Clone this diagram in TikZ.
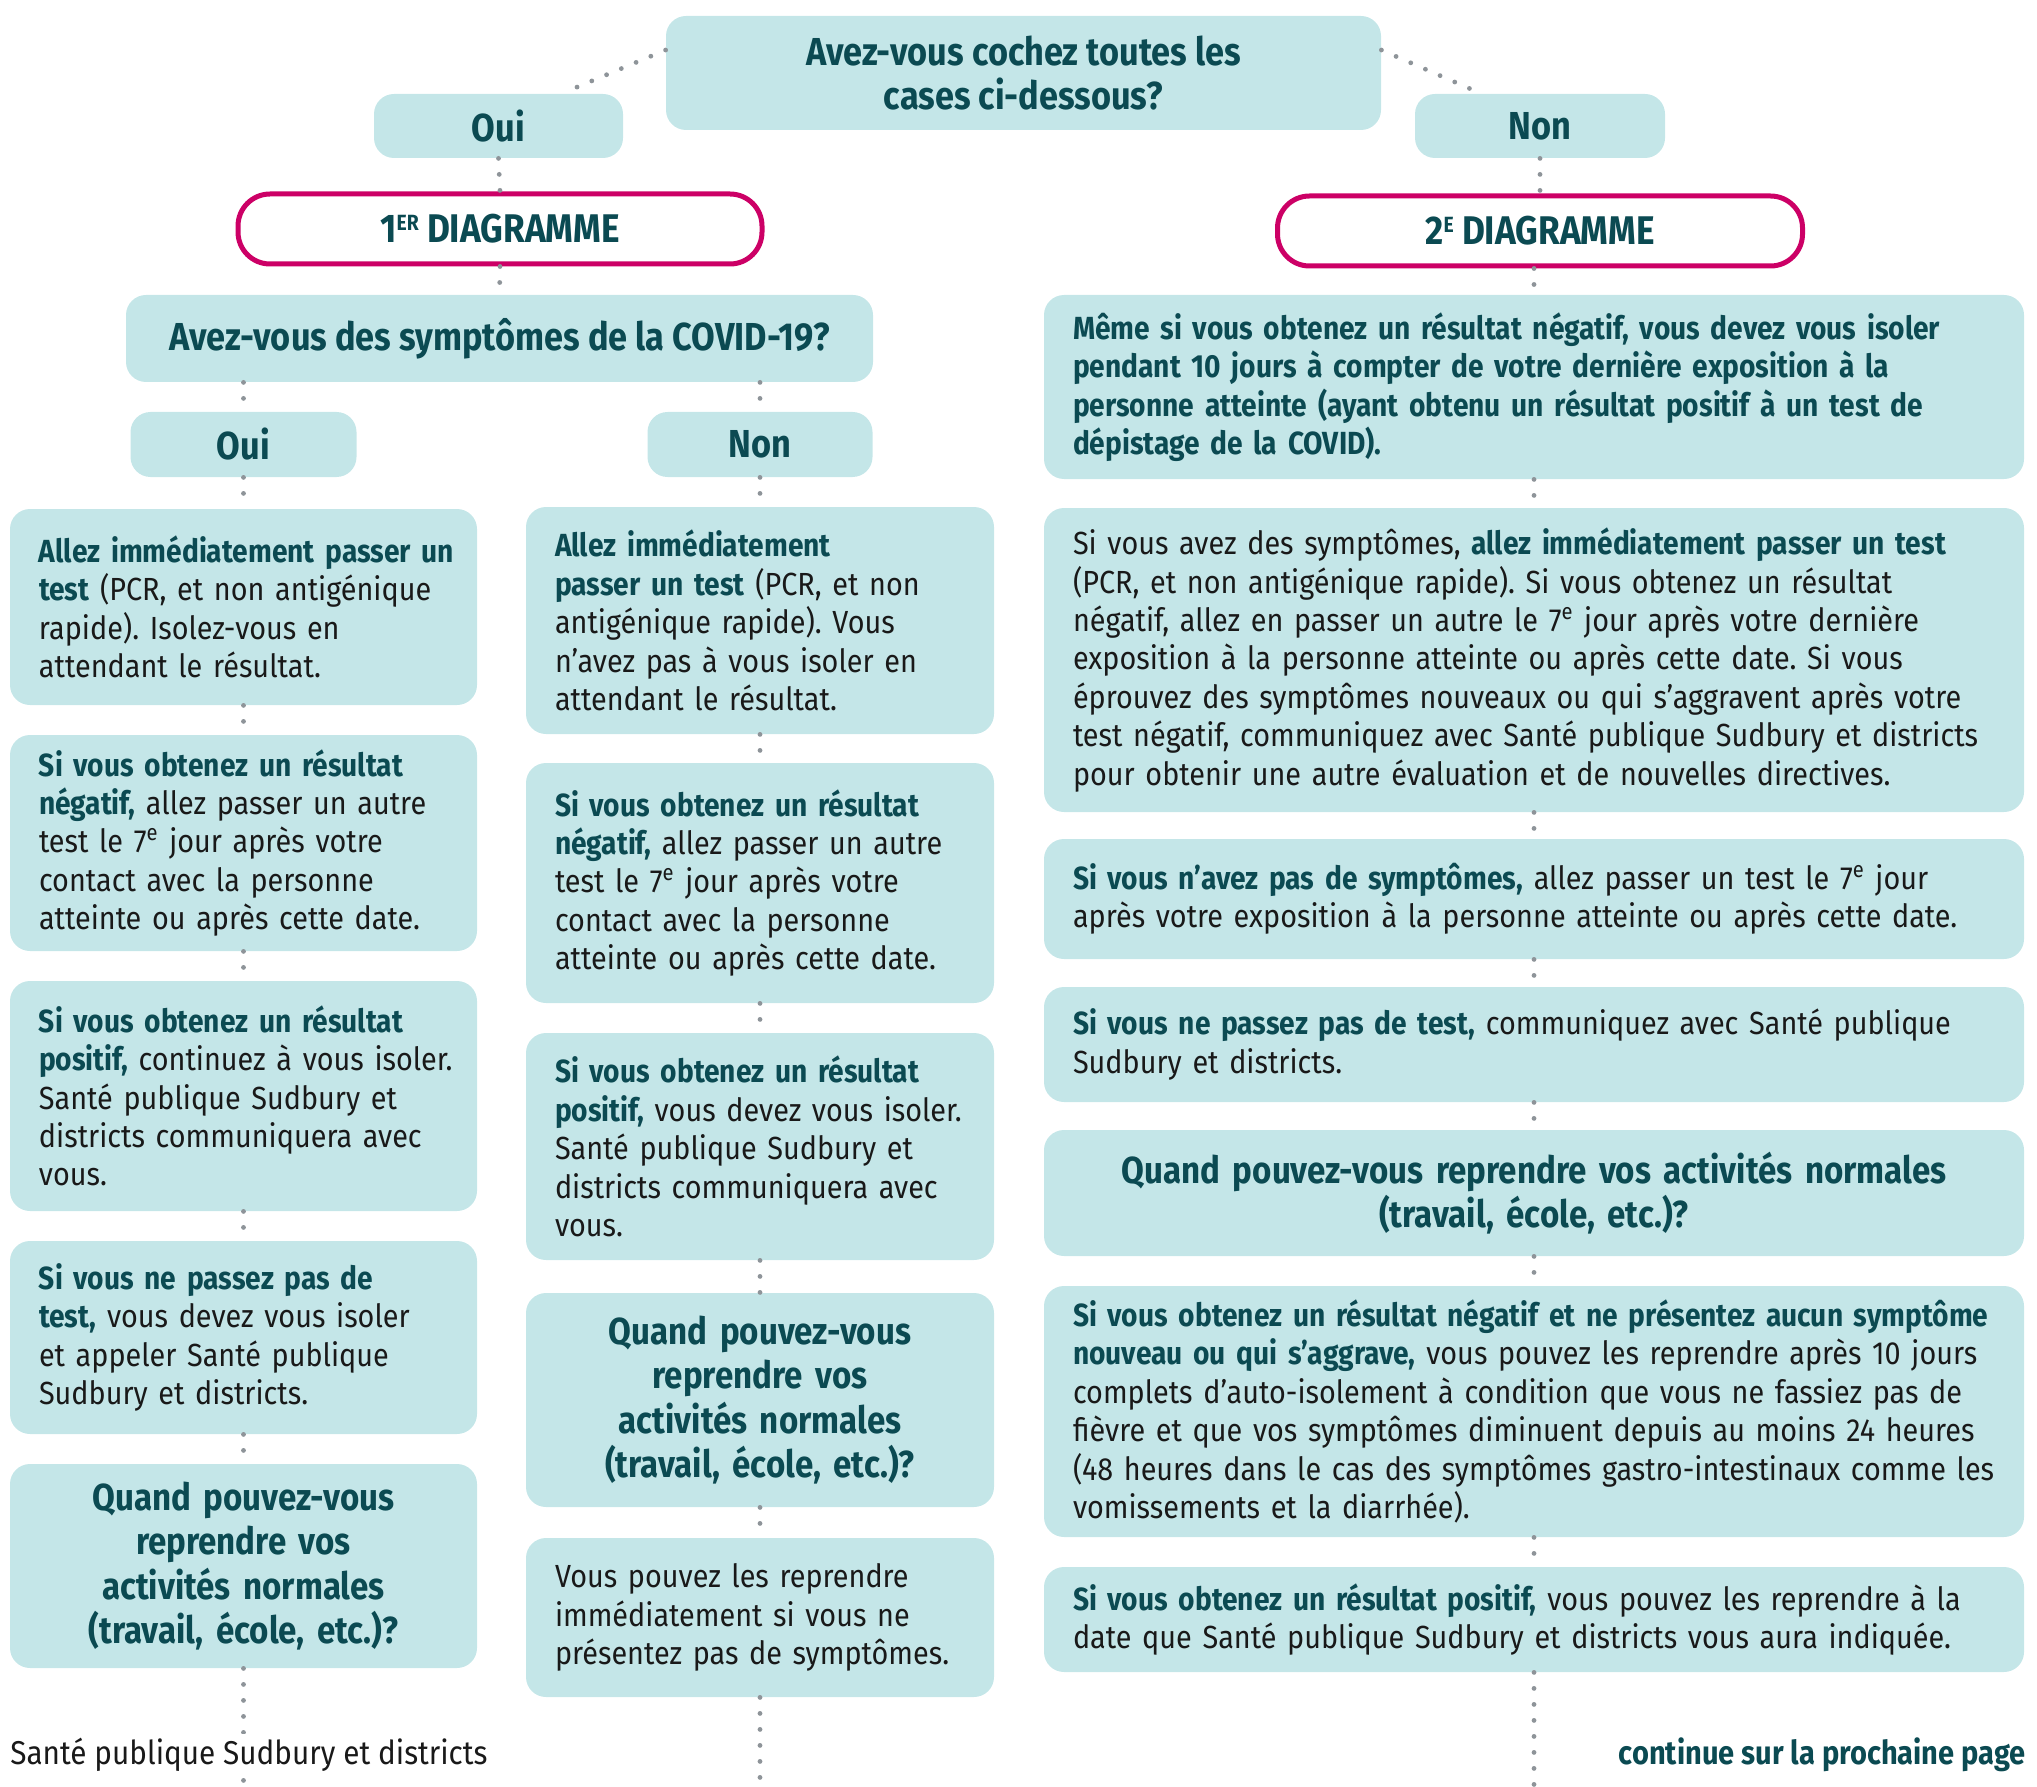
\documentclass[tikz,border=0pt]{standalone}
\usepackage{fontspec}
\setmainfont[FakeStretch=0.9, BoldFeatures={FakeStretch=0.88}]{Fira Sans}
\usetikzlibrary{calc}
\definecolor{boxfill}{HTML}{C4E6E8}
\definecolor{darkteal}{HTML}{0B4A52}
\definecolor{magent}{HTML}{CC0066}
\definecolor{dotgray}{HTML}{8E9499}
\newcommand\hl[1]{{\bfseries\color{darkteal}#1}}
\newcommand\supx[1]{\textsuperscript{#1}}
\newcommand\ov{\rightskip=-30pt plus 1fil\relax}
\newcommand\dsup[1]{\raisebox{6pt}{\fontsize{11}{11}\selectfont #1}}
\frenchspacing
\begin{document}
\begin{tikzpicture}[x=0.5pt,y=-0.5pt,
  box/.style={fill=boxfill, rounded corners=10pt, inner xsep=14.5pt, inner ysep=0pt, align=left, text=black!90, font=\fontsize{16}{19.2}\selectfont},
  lbox/.style={box, text width=204.5pt},
  mbox/.style={box, text width=205pt},
  rbox/.style={box, text width=461pt},
  qfont/.style={align=center, font=\bfseries\fontsize{18.8}{22.3}\selectfont, text=darkteal},
  small/.style={fill=boxfill, rounded corners=10pt, inner sep=0pt, align=center, font=\bfseries\fontsize{19.5}{22}\selectfont, text=darkteal},
  pill/.style={draw=magent, line width=2.5pt, fill=white, rounded corners=16pt, inner sep=0pt, font=\bfseries\fontsize{20}{22}\selectfont, text=darkteal},
  conn/.style={draw=dotgray, line width=2.4pt, line cap=round, dash pattern=on 0pt off 8pt}]
\useasboundingbox (0,0) rectangle (2037,1786);

% top
\node[small, minimum width=357.5pt, minimum height=57pt] (top) at (1023.5,73) {Avez-vous cochez toutes les\\cases ci-dessous?};
\node[small, minimum width=124.5pt, minimum height=32pt] (oui0) at (498.5,126) {Oui};
\node[small, minimum width=125pt, minimum height=32pt] (non0) at (1540,126) {Non};
\node[pill, minimum width=262pt, minimum height=35pt] (d1) at (500,229) {1\dsup{ER} DIAGRAMME};
\node[pill, minimum width=262.5pt, minimum height=35pt] (d2) at (1540,231) {2\dsup{E} DIAGRAMME};

% first diagram
\node[small, minimum width=373.5pt, minimum height=43.5pt] (sym) at (499.5,338.5) {Avez-vous des symptômes de la COVID-19?};
\node[small, minimum width=113pt, minimum height=32.5pt] (oui1) at (243.5,444.5) {Oui};
\node[small, minimum width=112.5pt, minimum height=32.5pt] (non1) at (760,444.5) {Non};

\node[lbox, minimum height=98pt] (l1) at (243.5,607) {\ov\hl{Allez immédiatement passer un}\\\hl{test} (PCR, et non antigénique\\rapide). Isolez-vous en\\attendant le résultat.};
\node[lbox, minimum height=108pt] (l2) at (243.5,843) {\ov\hl{Si vous obtenez un résultat}\\\hl{négatif,} allez passer un autre\\test le 7\supx{e} jour après votre\\contact avec la personne\\atteinte ou après cette date.};
\node[lbox, minimum height=115pt] (l3) at (243.5,1096) {\ov\hl{Si vous obtenez un résultat}\\\hl{positif,} continuez à vous isoler.\\Santé publique Sudbury et\\districts communiquera avec\\vous.};
\node[lbox, minimum height=96.5pt] (l4) at (243.5,1337.5) {\ov\hl{Si vous ne passez pas de}\\\hl{test,} vous devez vous isoler\\et appeler Santé publique\\Sudbury et districts.};
\node[lbox, qfont, minimum height=102pt] (l5) at (243.5,1566) {Quand pouvez-vous\\reprendre vos\\activités normales\\(travail, école, etc.)?};

\node[mbox, minimum height=113.5pt] (m1) at (760,620.5) {\ov\hl{Allez immédiatement}\\\hl{passer un test} (PCR, et non\\antigénique rapide). Vous\\n’avez pas à vous isoler en\\attendant le résultat.};
\node[mbox, minimum height=120pt] (m2) at (760,883) {\ov\hl{Si vous obtenez un résultat}\\\hl{négatif,} allez passer un autre\\test le 7\supx{e} jour après votre\\contact avec la personne\\atteinte ou après cette date.};
\node[mbox, minimum height=113.5pt] (m3) at (760,1146.5) {\ov\hl{Si vous obtenez un résultat}\\\hl{positif,} vous devez vous isoler.\\Santé publique Sudbury et\\districts communiquera avec\\vous.};
\node[mbox, qfont, minimum height=107pt] (m4) at (760,1400) {Quand pouvez-vous\\reprendre vos\\activités normales\\(travail, école, etc.)?};
\node[mbox, minimum height=79.5pt] (m5) at (760,1617.5) {\ov Vous pouvez les reprendre\\immédiatement si vous ne\\présentez pas de symptômes.};

% second diagram
\node[rbox, minimum height=92pt] (r1) at (1534,387) {\ov\hl{Même si vous obtenez un résultat négatif, vous devez vous isoler}\\\hl{pendant 10 jours à compter de votre dernière exposition à la}\\\hl{personne atteinte (ayant obtenu un résultat positif à un test de}\\\hl{dépistage de la COVID).}};
\node[rbox, minimum height=152pt] (r2) at (1534,660) {\ov Si vous avez des symptômes, \hl{allez immédiatement passer un test}\\(PCR, et non antigénique rapide). Si vous obtenez un résultat\\négatif, allez en passer un autre le 7\supx{e} jour après votre dernière\\exposition à la personne atteinte ou après cette date. Si vous\\éprouvez des symptômes nouveaux ou qui s’aggravent après votre\\test négatif, communiquez avec Santé publique Sudbury et districts\\pour obtenir une autre évaluation et de nouvelles directives.};
\node[rbox, minimum height=60pt] (r3) at (1534,899) {\ov\hl{Si vous n’avez pas de symptômes,} allez passer un test le 7\supx{e} jour\\après votre exposition à la personne atteinte ou après cette date.};
\node[rbox, minimum height=57.5pt] (r4) at (1534,1044.5) {\ov\hl{Si vous ne passez pas de test,} communiquez avec Santé publique\\Sudbury et districts.};
\node[rbox, qfont, minimum height=63pt] (r5) at (1534,1193) {Quand pouvez-vous reprendre vos activités normales\\(travail, école, etc.)?};
\node[rbox, minimum height=125.5pt] (r6) at (1534,1411.5) {\ov\hl{Si vous obtenez un résultat négatif et ne présentez aucun symptôme}\\\hl{nouveau ou qui s’aggrave,} vous pouvez les reprendre après 10 jours\\complets d’auto-isolement à condition que vous ne fassiez pas de\\fièvre et que vos symptômes diminuent depuis au moins 24 heures\\(48 heures dans le cas des symptômes gastro-intestinaux comme les\\vomissements et la diarrhée).};
\node[rbox, minimum height=52.5pt] (r7) at (1534,1619.5) {\ov\hl{Si vous obtenez un résultat positif,} vous pouvez les reprendre à la\\date que Santé publique Sudbury et districts vous aura indiquée.};

% free ends
\coordinate (endl) at (243.5,1786);
\coordinate (endm) at (760,1786);
\coordinate (endr) at (1534,1786);

% connectors
\draw[conn] ($(top.north west)!0.3!(top.south west)$) -- ($(oui0.north west)!0.8!(oui0.north east)+(0,-5)$);
\draw[conn] ($(top.north east)!0.3!(top.south east)$) -- ($(non0.north west)!0.22!(non0.north east)+(0,-5)$);
\draw[conn] (oui0.south) -- (d1.north);
\draw[conn] (non0.south) -- (d2.north);
\draw[conn] (d1.south) -- (sym.north);
\draw[conn] (d2.south -| r1.north) -- (r1.north);
\draw[conn] (sym.south -| oui1.north) -- (oui1.north);
\draw[conn] (sym.south -| non1.north) -- (non1.north);
\draw[conn] (oui1.south) -- (l1.north);
\draw[conn] (non1.south) -- (m1.north);
\draw[conn] (l1.south) -- (l2.north);
\draw[conn] (l2.south) -- (l3.north);
\draw[conn] (l3.south) -- (l4.north);
\draw[conn] (l4.south) -- (l5.north);
\draw[conn] (l5.south) -- (endl);
\draw[conn] (m1.south) -- (m2.north);
\draw[conn] (m2.south) -- (m3.north);
\draw[conn] (m3.south) -- (m4.north);
\draw[conn] (m4.south) -- (m5.north);
\draw[conn] (m5.south) -- (endm);
\draw[conn] (r1.south) -- (r2.north);
\draw[conn] (r2.south) -- (r3.north);
\draw[conn] (r3.south) -- (r4.north);
\draw[conn] (r4.south) -- (r5.north);
\draw[conn] (r5.south) -- (r6.north);
\draw[conn] (r6.south) -- (r7.north);
\draw[conn] (r7.south) -- (endr);

% footer
\node[anchor=west, fill=white, inner xsep=0pt, inner ysep=2pt, font=\fontsize{16.5}{18}\selectfont, text=black!90] (foot) at (10,1755) {Santé publique Sudbury et districts};
\node[anchor=east, inner sep=0pt, font=\bfseries\fontsize{16.5}{18}\selectfont, text=darkteal] (cont) at (2026,1755) {continue sur la prochaine page};
\end{tikzpicture}
\end{document}
